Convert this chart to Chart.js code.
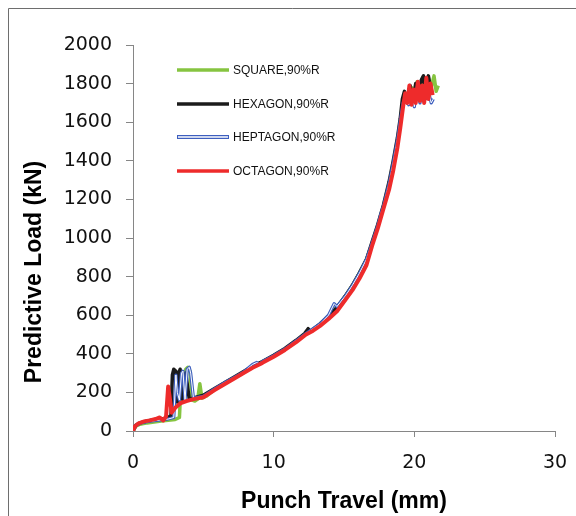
<!DOCTYPE html>
<html>
<head>
<meta charset="utf-8">
<script src="https://cdn.jsdelivr.net/npm/chart.js@4"></script>
<style>
  body { margin: 0; background: #fff; }
  canvas { display: block; }
</style>
</head>
<body>
<canvas id="graph" width="576" height="516"></canvas>
<script>
const canv = /**@type {HTMLCanvasElement}*/(document.getElementById("graph"))
const ctx = canv.getContext("2d")

// punch travel (mm) / predictive load (kN)
const squareX = [0, 0.2, 0.5, 1.0, 1.5, 2.0, 2.5, 3.0, 3.3, 3.45, 3.6, 3.75, 3.9, 4.05, 4.2, 4.4, 4.6, 4.75, 4.9, 5.2, 5.8, 6.5, 7.2, 7.8, 8.5, 9.2, 10.0, 10.8, 11.6, 12.3, 13.3, 13.9, 14.5, 15.1, 15.6, 16.1, 16.6, 17.0, 17.4, 17.8, 18.2, 18.5, 18.8, 19.0, 19.2, 19.4, 19.6, 19.8, 20.0, 20.2, 20.4, 20.6, 20.8, 21.0, 21.2, 21.4, 21.55, 21.7]
const squareY = [0, 25, 35, 42, 47, 52, 56, 60, 70, 300, 180, 320, 330, 310, 160, 155, 165, 245, 170, 180, 215, 248, 276, 300, 332, 358, 388, 424, 466, 503, 552, 596, 640, 700, 755, 820, 890, 970, 1060, 1160, 1270, 1380, 1500, 1600, 1700, 1745, 1700, 1780, 1720, 1810, 1740, 1830, 1760, 1830, 1780, 1840, 1760, 1790]

const hexagonX = [0, 0.2, 0.5, 1.0, 1.5, 2.0, 2.4, 2.7, 2.8, 2.9, 3.05, 3.15, 3.25, 3.35, 3.45, 3.6, 3.75, 4.0, 4.5, 5.0, 5.8, 6.5, 7.2, 7.8, 8.5, 9.2, 10.0, 10.8, 11.6, 12.2, 12.45, 12.6, 13.3, 13.9, 14.5, 15.1, 15.6, 16.1, 16.6, 17.0, 17.4, 17.8, 18.2, 18.5, 18.8, 19.0, 19.15, 19.3, 19.5, 19.7, 19.9, 20.1, 20.3, 20.5, 20.65, 20.8, 21.0, 21.2]
const hexagonY = [0, 30, 42, 52, 58, 62, 65, 80, 290, 320, 310, 150, 300, 320, 170, 160, 300, 165, 175, 185, 220, 250, 280, 305, 335, 360, 392, 428, 470, 505, 530, 515, 555, 595, 640, 700, 755, 820, 890, 980, 1070, 1170, 1290, 1400, 1520, 1620, 1720, 1760, 1700, 1790, 1720, 1800, 1740, 1820, 1840, 1760, 1840, 1750]

const heptagonX = [0, 0.2, 0.5, 1.0, 1.5, 2.0, 2.5, 2.9, 3.05, 3.15, 3.3, 3.45, 3.55, 3.7, 3.85, 4.0, 4.1, 4.3, 5.0, 5.8, 6.5, 7.2, 7.8, 8.5, 8.8, 9.0, 9.2, 10.0, 10.8, 11.6, 12.3, 13.3, 13.9, 14.3, 14.5, 15.1, 15.6, 16.1, 16.6, 17.0, 17.4, 17.6, 17.8, 18.2, 18.5, 18.8, 19.0, 19.2, 19.4, 19.6, 19.8, 20.0, 20.2, 20.4, 20.6, 20.8, 21.0, 21.2, 21.35]
const heptagonY = [0, 28, 40, 48, 53, 58, 62, 70, 290, 200, 160, 300, 310, 160, 320, 330, 300, 170, 180, 218, 250, 278, 302, 345, 355, 345, 360, 390, 425, 468, 505, 555, 600, 660, 645, 700, 755, 818, 890, 975, 1065, 1120, 1165, 1280, 1390, 1510, 1610, 1700, 1740, 1690, 1760, 1680, 1780, 1700, 1790, 1720, 1760, 1700, 1720]

const octagonX = [0, 0.15, 0.4, 0.8, 1.2, 1.6, 1.9, 2.15, 2.35, 2.5, 2.6, 2.75, 3.0, 3.4, 3.8, 4.3, 5.0, 5.8, 6.5, 7.2, 7.8, 8.5, 9.2, 10.0, 10.8, 11.6, 12.3, 12.8, 13.3, 13.9, 14.5, 15.1, 15.6, 16.1, 16.6, 17.0, 17.4, 17.8, 18.2, 18.5, 18.8, 19.0, 19.2, 19.35, 19.5, 19.65, 19.8, 19.95, 20.1, 20.25, 20.4, 20.55, 20.7, 20.85, 21.0, 21.15, 21.3]
const octagonY = [0, 25, 40, 50, 55, 62, 70, 55, 75, 230, 180, 95, 120, 145, 155, 165, 175, 212, 242, 272, 298, 328, 353, 385, 420, 460, 500, 520, 545, 580, 620, 680, 730, 790, 860, 960, 1050, 1150, 1250, 1350, 1470, 1570, 1680, 1750, 1700, 1790, 1690, 1770, 1700, 1810, 1710, 1790, 1700, 1830, 1720, 1800, 1740]

const seriesNames = ["SQUARE,90%R", "HEXAGON,90%R", "HEPTAGON,90%R", "OCTAGON,90%R"]
const xTicks = [0, 10, 20, 30]
const yMax = 2000

const GREEN = "#86c440"
const BLACK = "#1b1b1b"
const BLUE = "#3e5fbf"
const RED = "#ee2b2b"
const AXIS = "#868686"

function pts(xs, ys) {
    return xs.map((x, i) => ({ x: x, y: ys[i] }))
}

// frame border, y title and the in-plot legend
const decor = {
    id: "decor",
    beforeDraw(chart) {
        const c = chart.ctx
        c.save()
        c.strokeStyle = "#6e6e6e"
        c.lineWidth = 1
        c.beginPath()
        c.moveTo(8.5, 516)
        c.lineTo(8.5, 8.5)
        c.lineTo(576, 8.5)
        c.stroke()
        c.restore()
    },
    afterDraw(chart) {
        const c = chart.ctx
        const a = chart.chartArea
        c.save()
        c.translate(35, 272)
        c.rotate(-Math.PI / 2)
        c.font = "bold 23px 'Liberation Sans'"
        c.fillStyle = "#000"
        c.textAlign = "center"
        c.textBaseline = "middle"
        c.fillText("Predictive Load (kN)", 0, 0)
        c.restore()

        const colors = [GREEN, BLACK, BLUE, RED]
        const rows = [70, 104, 137, 171]
        c.save()
        c.font = "12px 'Liberation Sans'"
        c.textBaseline = "middle"
        c.lineCap = "butt"
        seriesNames.forEach((name, i) => {
            const y = rows[i]
            const x0 = a.left + 44, x1 = a.left + 96
            c.strokeStyle = colors[i]
            c.lineWidth = i == 2 ? 4 : 3.5
            c.beginPath(); c.moveTo(x0, y); c.lineTo(x1, y); c.stroke()
            if (i == 2) {
                c.strokeStyle = "#fff"
                c.lineWidth = 1.5
                c.beginPath(); c.moveTo(x0 + 1, y); c.lineTo(x1 - 1, y); c.stroke()
            }
            c.fillStyle = "#111"
            c.fillText(name, x1 + 4, y + 1)
        })
        c.restore()
    }
}

const tickFont = { family: "'DejaVu Sans'", size: 19 }

new Chart(ctx, {
    type: "line",
    data: {
        datasets: [
            { label: seriesNames[3], data: pts(octagonX, octagonY), borderColor: RED, borderWidth: 4, order: 0 },
            { label: "inner", data: pts(heptagonX, heptagonY), borderColor: "#ffffff", borderWidth: 1, order: 1 },
            { label: seriesNames[2], data: pts(heptagonX, heptagonY), borderColor: BLUE, borderWidth: 3.2, order: 2 },
            { label: seriesNames[1], data: pts(hexagonX, hexagonY), borderColor: BLACK, borderWidth: 3.5, order: 3 },
            { label: seriesNames[0], data: pts(squareX, squareY), borderColor: GREEN, borderWidth: 3.5, order: 4 }
        ]
    },
    options: {
        responsive: false,
        animation: false,
        layout: { padding: { top: 45, right: 21, left: 0, bottom: 0 } },
        elements: { point: { radius: 0 }, line: { tension: 0, borderJoinStyle: "round" } },
        plugins: { legend: { display: false }, tooltip: { enabled: false } },
        scales: {
            x: {
                type: "linear",
                min: xTicks[0],
                max: xTicks[xTicks.length - 1],
                afterBuildTicks: s => { s.ticks = xTicks.map(v => ({ value: v })) },
                afterFit: s => { s.height = 85; s.paddingLeft = 0; s.paddingRight = 0 },
                ticks: { color: "#111", font: tickFont, padding: 15, callback: v => String(v) },
                grid: { drawOnChartArea: false, tickLength: 6, color: AXIS },
                border: { color: AXIS },
                title: {
                    display: true,
                    text: "Punch Travel (mm)",
                    color: "#000",
                    font: { family: "'Liberation Sans'", size: 23, weight: "bold" },
                    padding: { top: 0, bottom: 1 }
                }
            },
            y: {
                min: 0,
                max: yMax,
                afterFit: s => { s.width = 133 },
                ticks: { stepSize: 200, color: "#111", font: tickFont, padding: 14, callback: v => String(v) },
                grid: { drawOnChartArea: false, tickLength: 7, color: AXIS },
                border: { color: AXIS }
            }
        }
    },
    plugins: [decor]
})
</script>
</body>
</html>
